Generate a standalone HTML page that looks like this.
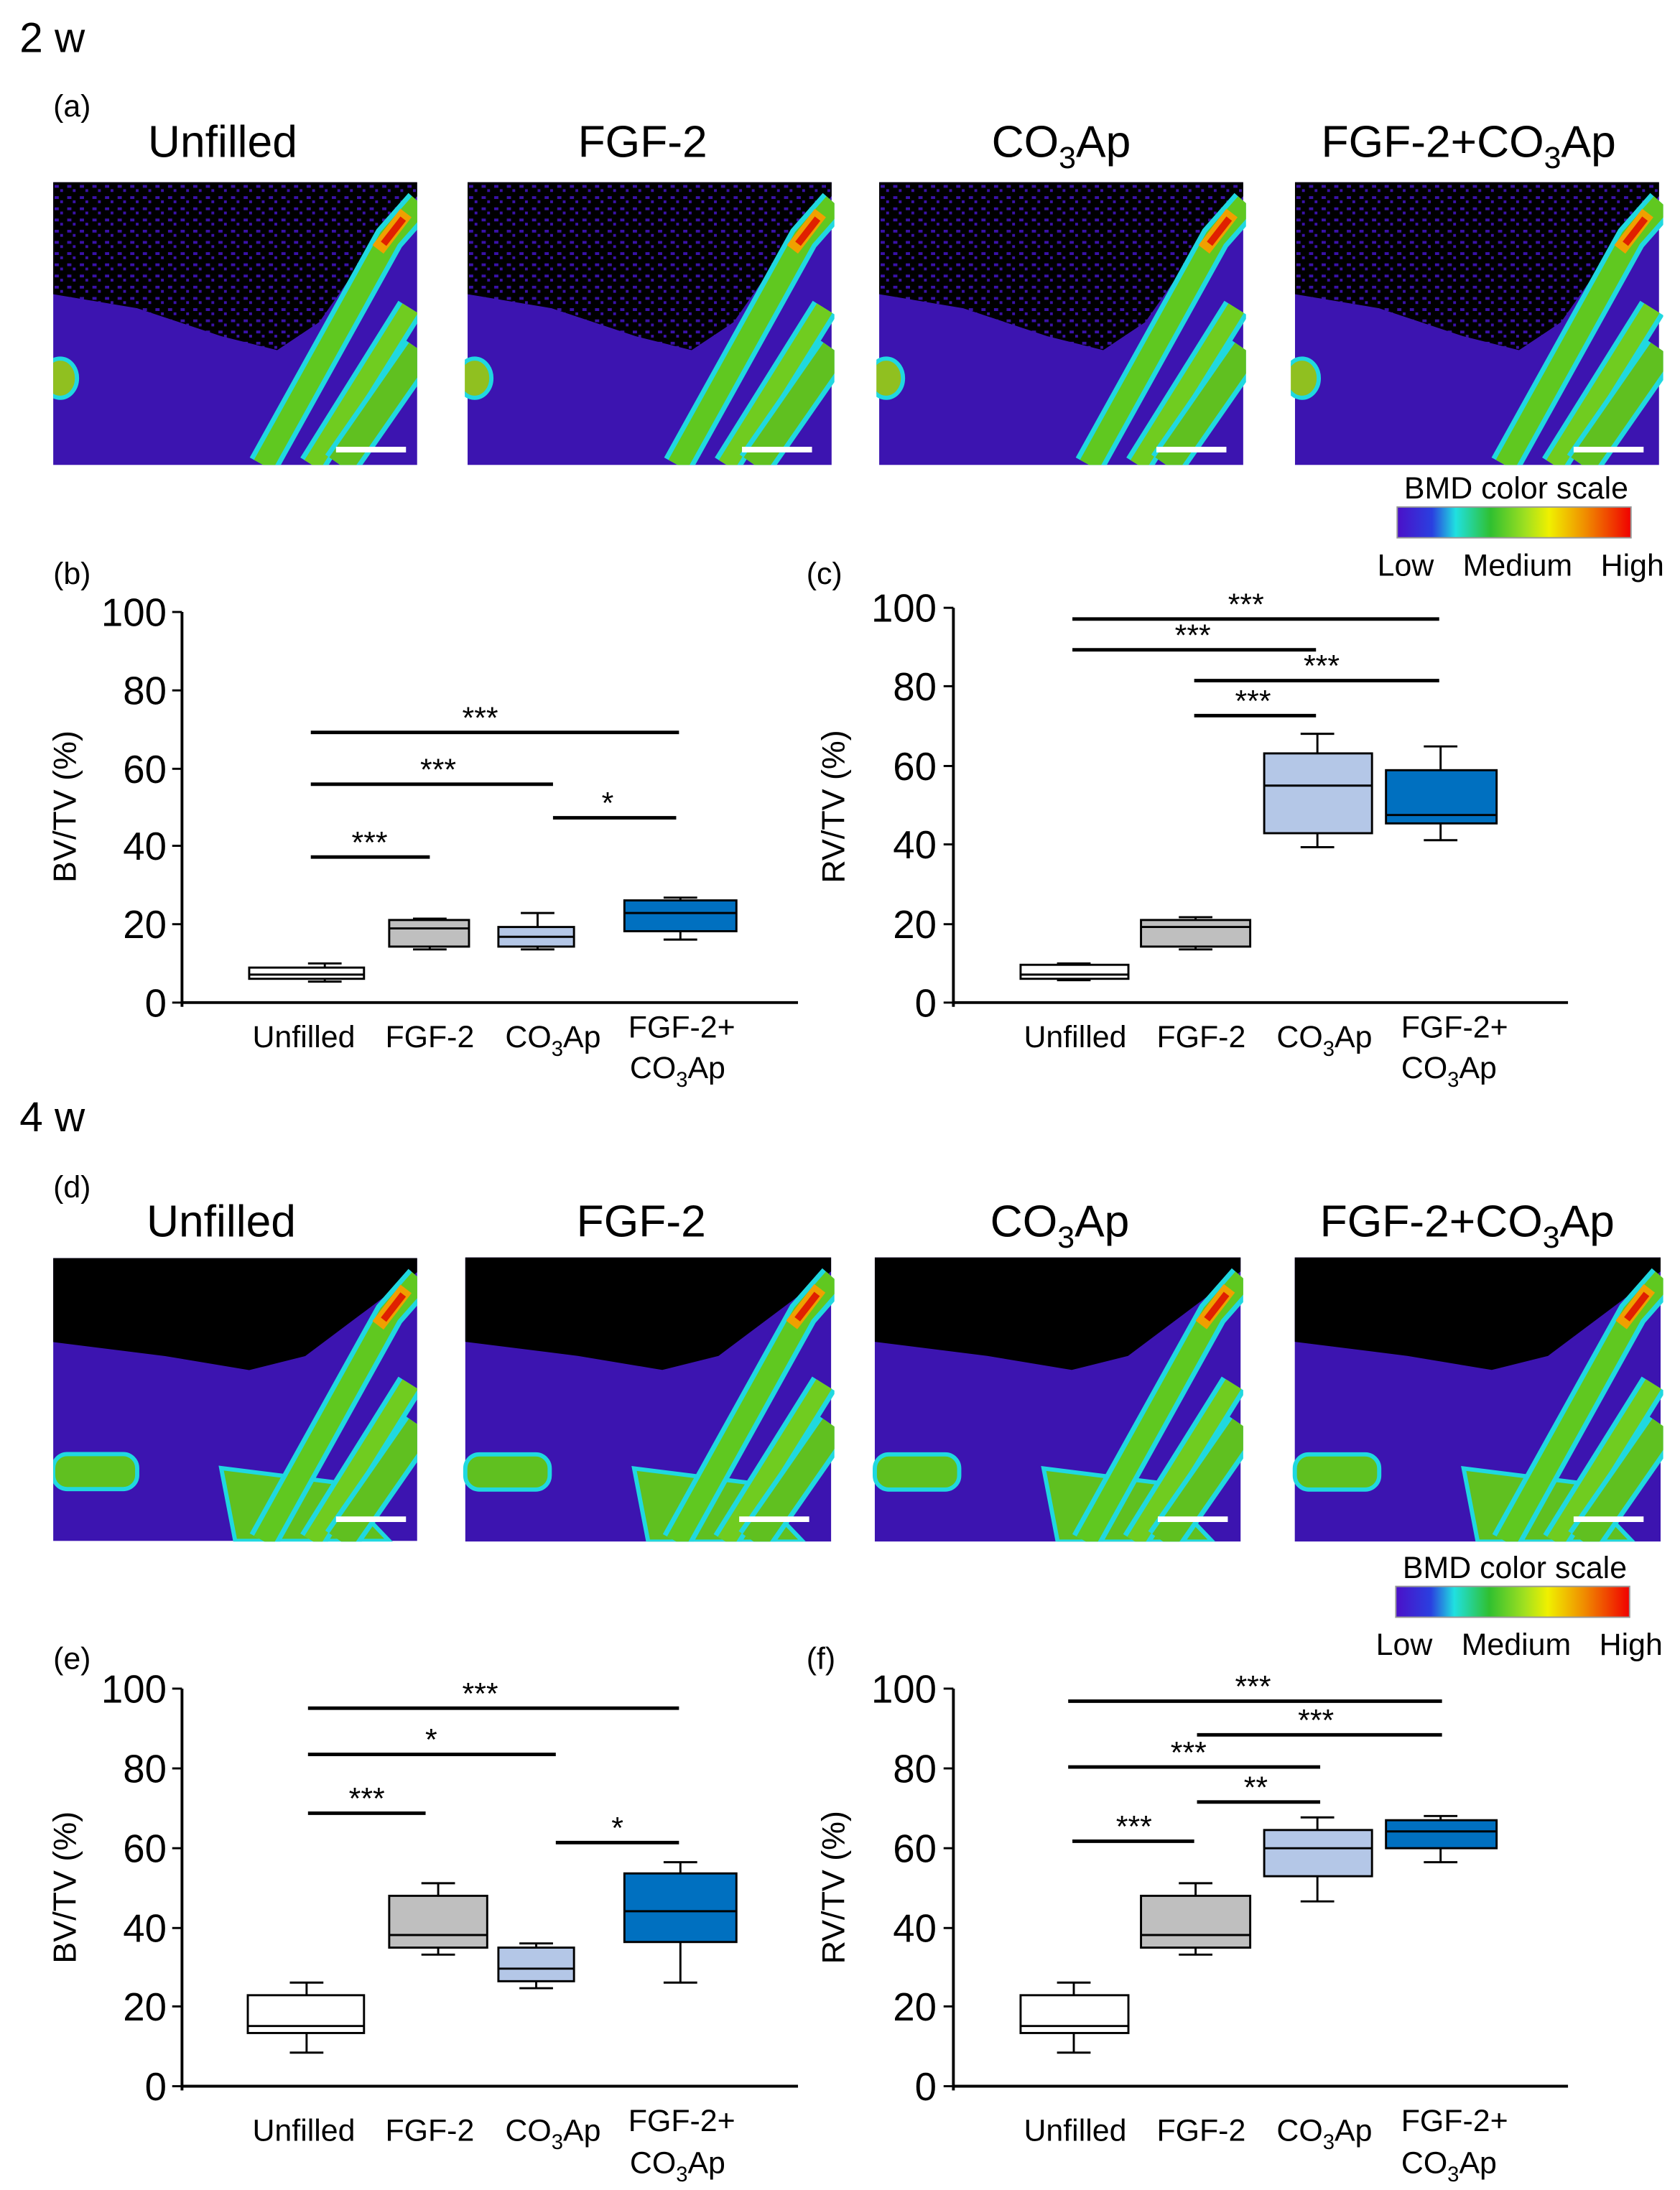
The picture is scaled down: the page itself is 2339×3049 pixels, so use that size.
<!DOCTYPE html>
<html><head><meta charset="utf-8"><style>
html,body{margin:0;padding:0;background:#fff;}
svg{display:block;font-family:"Liberation Sans",Arial,sans-serif;}
</style></head><body>
<svg width="2339" height="3049" viewBox="0 0 1200 1564" xmlns="http://www.w3.org/2000/svg">
<defs>
<linearGradient id="bmd" x1="0" x2="1">
<stop offset="0" stop-color="#4b10c8"/><stop offset="0.15" stop-color="#2a40e0"/><stop offset="0.25" stop-color="#20e0e0"/><stop offset="0.4" stop-color="#30c030"/><stop offset="0.55" stop-color="#a0e020"/><stop offset="0.65" stop-color="#f0f000"/><stop offset="0.8" stop-color="#f09000"/><stop offset="1" stop-color="#f00000"/>
</linearGradient>
<pattern id="dots" width="9" height="8" patternUnits="userSpaceOnUse">
<rect width="9" height="8" fill="#000"/><rect x="1" y="2" width="3" height="2" fill="#3a12a8"/><rect x="5" y="5" width="2" height="2" fill="#3a12a8"/>
</pattern>
<g id="bands">
<path d="M150,202 L240,40 L262,15" stroke="#20d8e0" stroke-width="22" fill="none"/>
<path d="M150,202 L240,40 L262,15" stroke="#60c820" stroke-width="15" fill="none"/>
<path d="M185,202 L255,90" stroke="#20d8e0" stroke-width="20" fill="none"/>
<path d="M185,202 L255,90" stroke="#70cc20" stroke-width="13" fill="none"/>
<path d="M205,202 L262,120" stroke="#20d8e0" stroke-width="26" fill="none"/>
<path d="M205,202 L262,120" stroke="#60c020" stroke-width="19" fill="none"/>
<path d="M232,48 L252,22" stroke="#f0a000" stroke-width="10"/>
<path d="M236,44 L250,26" stroke="#e02000" stroke-width="5"/>
</g>
<symbol id="ct2" viewBox="0 0 260 202">
<rect width="260" height="202" fill="#3c14b0"/>
<polygon points="0,0 260,0 260,10 225,50 190,100 160,120 120,110 60,90 0,80" fill="url(#dots)"/>
<ellipse cx="5" cy="140" rx="12" ry="14" fill="#90c020" stroke="#20d8e0" stroke-width="3"/>
<use href="#bands"/>
</symbol>
<symbol id="ct4" viewBox="0 0 260 202">
<rect width="260" height="202" fill="#3c14b0"/>
<polygon points="0,0 260,0 260,10 220,40 180,70 140,80 80,70 0,60" fill="#000"/>
<rect x="0" y="140" width="60" height="25" rx="10" fill="#60c020" stroke="#20d8e0" stroke-width="3"/>
<path d="M130,202 L120,150 L200,160 L240,202Z" fill="#60c020" stroke="#20d8e0" stroke-width="3"/>
<use href="#bands"/>
</symbol>
</defs>

<g font-size="30"><text x="14" y="37">2 w</text><text x="14" y="808">4 w</text></g>
<g font-size="22"><text x="38" y="83">(a)</text><text x="38" y="855">(d)</text>
<text x="38" y="417">(b)</text><text x="576" y="417">(c)</text>
<text x="38" y="1192">(e)</text><text x="576" y="1192">(f)</text></g>

<g font-size="32" text-anchor="middle">
<text x="159" y="112">Unfilled</text><text x="459" y="112">FGF-2</text>
<text x="758" y="112">CO<tspan font-size="22" dy="8">3</tspan><tspan dy="-8">Ap</tspan></text>
<text x="1049" y="112">FGF-2+CO<tspan font-size="22" dy="8">3</tspan><tspan dy="-8">Ap</tspan></text>
<text x="158" y="883">Unfilled</text><text x="458" y="883">FGF-2</text>
<text x="757" y="883">CO<tspan font-size="22" dy="8">3</tspan><tspan dy="-8">Ap</tspan></text>
<text x="1048" y="883">FGF-2+CO<tspan font-size="22" dy="8">3</tspan><tspan dy="-8">Ap</tspan></text>
</g>

<use href="#ct2" x="38" y="130" width="260" height="202" preserveAspectRatio="none"/>
<use href="#ct2" x="332" y="130" width="264" height="202" preserveAspectRatio="none"/>
<use href="#ct2" x="626" y="130" width="264" height="202" preserveAspectRatio="none"/>
<use href="#ct2" x="922" y="130" width="266" height="202" preserveAspectRatio="none"/>
<use href="#ct4" x="38" y="898" width="260" height="203" preserveAspectRatio="none"/>
<use href="#ct4" x="330" y="898" width="266" height="203" preserveAspectRatio="none"/>
<use href="#ct4" x="623" y="898" width="265" height="203" preserveAspectRatio="none"/>
<use href="#ct4" x="923" y="898" width="265" height="203" preserveAspectRatio="none"/>
<g stroke="#fff" stroke-width="4">
<line x1="240" y1="321" x2="290" y2="321"/><line x1="530" y1="321" x2="580" y2="321"/><line x1="826" y1="321" x2="876" y2="321"/><line x1="1124" y1="321" x2="1174" y2="321"/>
<line x1="240" y1="1085" x2="290" y2="1085"/><line x1="528" y1="1085" x2="578" y2="1085"/><line x1="827" y1="1085" x2="877" y2="1085"/><line x1="1124" y1="1085" x2="1174" y2="1085"/>
</g>

<g font-size="22" text-anchor="middle">
<text x="1083" y="356">BMD color scale</text>
<rect x="998" y="362" width="167" height="22" fill="url(#bmd)" stroke="#999"/>
<text x="1004" y="411">Low</text><text x="1084" y="411">Medium</text><text x="1166" y="411">High</text>
<text x="1082" y="1127">BMD color scale</text>
<rect x="997" y="1133" width="167" height="22" fill="url(#bmd)" stroke="#999"/>
<text x="1003" y="1182">Low</text><text x="1083" y="1182">Medium</text><text x="1165" y="1182">High</text>
</g>

<g stroke="#000" stroke-width="2" fill="none">
<line x1="130" y1="437" x2="130" y2="719"/><line x1="130" y1="716" x2="570" y2="716"/>
<line x1="681" y1="434" x2="681" y2="719"/><line x1="681" y1="716" x2="1120" y2="716"/>
<line x1="130" y1="1206" x2="130" y2="1493"/><line x1="130" y1="1490" x2="570" y2="1490"/>
<line x1="681" y1="1206" x2="681" y2="1493"/><line x1="681" y1="1490" x2="1120" y2="1490"/>
</g>
<g font-size="28" text-anchor="end">
<text x="119" y="447">100</text><text x="119" y="503">80</text><text x="119" y="559">60</text><text x="119" y="614">40</text><text x="119" y="670">20</text><text x="119" y="726">0</text>
<text x="669" y="444">100</text><text x="669" y="500">80</text><text x="669" y="557">60</text><text x="669" y="613">40</text><text x="669" y="670">20</text><text x="669" y="726">0</text>
<text x="119" y="1216">100</text><text x="119" y="1273">80</text><text x="119" y="1330">60</text><text x="119" y="1387">40</text><text x="119" y="1443">20</text><text x="119" y="1500">0</text>
<text x="669" y="1216">100</text><text x="669" y="1273">80</text><text x="669" y="1330">60</text><text x="669" y="1387">40</text><text x="669" y="1443">20</text><text x="669" y="1500">0</text>
</g>
<g stroke="#000" stroke-width="1.5">
<line x1="123" y1="437" x2="130" y2="437"/><line x1="123" y1="493" x2="130" y2="493"/><line x1="123" y1="549" x2="130" y2="549"/><line x1="123" y1="604" x2="130" y2="604"/><line x1="123" y1="660" x2="130" y2="660"/><line x1="123" y1="716" x2="130" y2="716"/>
<line x1="674" y1="434" x2="681" y2="434"/><line x1="674" y1="490" x2="681" y2="490"/><line x1="674" y1="547" x2="681" y2="547"/><line x1="674" y1="603" x2="681" y2="603"/><line x1="674" y1="660" x2="681" y2="660"/><line x1="674" y1="716" x2="681" y2="716"/>
<line x1="123" y1="1206" x2="130" y2="1206"/><line x1="123" y1="1263" x2="130" y2="1263"/><line x1="123" y1="1320" x2="130" y2="1320"/><line x1="123" y1="1377" x2="130" y2="1377"/><line x1="123" y1="1433" x2="130" y2="1433"/><line x1="123" y1="1490" x2="130" y2="1490"/>
<line x1="674" y1="1206" x2="681" y2="1206"/><line x1="674" y1="1263" x2="681" y2="1263"/><line x1="674" y1="1320" x2="681" y2="1320"/><line x1="674" y1="1377" x2="681" y2="1377"/><line x1="674" y1="1433" x2="681" y2="1433"/><line x1="674" y1="1490" x2="681" y2="1490"/>
</g>
<g font-size="23" text-anchor="middle">
<text transform="translate(54,576) rotate(-90)">BV/TV (%)</text>
<text transform="translate(603,576) rotate(-90)">RV/TV (%)</text>
<text transform="translate(54,1348) rotate(-90)">BV/TV (%)</text>
<text transform="translate(603,1348) rotate(-90)">RV/TV (%)</text>
</g>
<g font-size="22" text-anchor="middle">
<text x="217" y="748">Unfilled</text><text x="307" y="748">FGF-2</text><text x="395" y="748">CO<tspan font-size="15" dy="6">3</tspan><tspan dy="-6">Ap</tspan></text><text x="487" y="741">FGF-2+</text><text x="484" y="770">CO<tspan font-size="15" dy="6">3</tspan><tspan dy="-6">Ap</tspan></text>
<text x="768" y="748">Unfilled</text><text x="858" y="748">FGF-2</text><text x="946" y="748">CO<tspan font-size="15" dy="6">3</tspan><tspan dy="-6">Ap</tspan></text><text x="1039" y="741">FGF-2+</text><text x="1035" y="770">CO<tspan font-size="15" dy="6">3</tspan><tspan dy="-6">Ap</tspan></text>
<text x="217" y="1529">Unfilled</text><text x="307" y="1529">FGF-2</text><text x="395" y="1529">CO<tspan font-size="15" dy="6">3</tspan><tspan dy="-6">Ap</tspan></text><text x="487" y="1522">FGF-2+</text><text x="484" y="1552">CO<tspan font-size="15" dy="6">3</tspan><tspan dy="-6">Ap</tspan></text>
<text x="768" y="1529">Unfilled</text><text x="858" y="1529">FGF-2</text><text x="946" y="1529">CO<tspan font-size="15" dy="6">3</tspan><tspan dy="-6">Ap</tspan></text><text x="1039" y="1522">FGF-2+</text><text x="1035" y="1552">CO<tspan font-size="15" dy="6">3</tspan><tspan dy="-6">Ap</tspan></text>
</g>

<g stroke="#000" stroke-width="1.5">
<line x1="232" y1="688" x2="232" y2="701"/><line x1="220" y1="688" x2="244" y2="688"/><line x1="220" y1="701" x2="244" y2="701"/>
<rect x="178" y="691" width="82" height="8" fill="#fff"/><line x1="178" y1="696" x2="260" y2="696"/>
<line x1="307" y1="656" x2="307" y2="678"/><line x1="295" y1="656" x2="319" y2="656"/><line x1="295" y1="678" x2="319" y2="678"/>
<rect x="278" y="657" width="57" height="19" fill="#bfbfbf"/><line x1="278" y1="663" x2="335" y2="663"/>
<line x1="384" y1="652" x2="384" y2="678"/><line x1="372" y1="652" x2="396" y2="652"/><line x1="372" y1="678" x2="396" y2="678"/>
<rect x="356" y="662" width="54" height="14" fill="#b4c7e7"/><line x1="356" y1="669" x2="410" y2="669"/>
<line x1="486" y1="641" x2="486" y2="671"/><line x1="474" y1="641" x2="498" y2="641"/><line x1="474" y1="671" x2="498" y2="671"/>
<rect x="446" y="643" width="80" height="22" fill="#0070c0"/><line x1="446" y1="652" x2="526" y2="652"/>
<line x1="767" y1="688" x2="767" y2="700"/><line x1="755" y1="688" x2="779" y2="688"/><line x1="755" y1="700" x2="779" y2="700"/>
<rect x="729" y="689" width="77" height="10" fill="#fff"/><line x1="729" y1="696" x2="806" y2="696"/>
<line x1="854" y1="655" x2="854" y2="678"/><line x1="842" y1="655" x2="866" y2="655"/><line x1="842" y1="678" x2="866" y2="678"/>
<rect x="815" y="657" width="78" height="19" fill="#bfbfbf"/><line x1="815" y1="662" x2="893" y2="662"/>
<line x1="941" y1="524" x2="941" y2="605"/><line x1="929" y1="524" x2="953" y2="524"/><line x1="929" y1="605" x2="953" y2="605"/>
<rect x="903" y="538" width="77" height="57" fill="#b4c7e7"/><line x1="903" y1="561" x2="980" y2="561"/>
<line x1="1029" y1="533" x2="1029" y2="600"/><line x1="1017" y1="533" x2="1041" y2="533"/><line x1="1017" y1="600" x2="1041" y2="600"/>
<rect x="990" y="550" width="79" height="38" fill="#0070c0"/><line x1="990" y1="582" x2="1069" y2="582"/>
</g>
<g stroke="#000" stroke-width="1.5">
<line x1="219" y1="1416" x2="219" y2="1466"/><line x1="207" y1="1416" x2="231" y2="1416"/><line x1="207" y1="1466" x2="231" y2="1466"/>
<rect x="177" y="1425" width="83" height="27" fill="#fff"/><line x1="177" y1="1447" x2="260" y2="1447"/>
<line x1="313" y1="1345" x2="313" y2="1396"/><line x1="301" y1="1345" x2="325" y2="1345"/><line x1="301" y1="1396" x2="325" y2="1396"/>
<rect x="278" y="1354" width="70" height="37" fill="#bfbfbf"/><line x1="278" y1="1382" x2="348" y2="1382"/>
<line x1="383" y1="1388" x2="383" y2="1420"/><line x1="371" y1="1388" x2="395" y2="1388"/><line x1="371" y1="1420" x2="395" y2="1420"/>
<rect x="356" y="1391" width="54" height="24" fill="#b4c7e7"/><line x1="356" y1="1406" x2="410" y2="1406"/>
<line x1="486" y1="1330" x2="486" y2="1416"/><line x1="474" y1="1330" x2="498" y2="1330"/><line x1="474" y1="1416" x2="498" y2="1416"/>
<rect x="446" y="1338" width="80" height="49" fill="#0070c0"/><line x1="446" y1="1365" x2="526" y2="1365"/>
<line x1="767" y1="1416" x2="767" y2="1466"/><line x1="755" y1="1416" x2="779" y2="1416"/><line x1="755" y1="1466" x2="779" y2="1466"/>
<rect x="729" y="1425" width="77" height="27" fill="#fff"/><line x1="729" y1="1447" x2="806" y2="1447"/>
<line x1="854" y1="1345" x2="854" y2="1396"/><line x1="842" y1="1345" x2="866" y2="1345"/><line x1="842" y1="1396" x2="866" y2="1396"/>
<rect x="815" y="1354" width="78" height="37" fill="#bfbfbf"/><line x1="815" y1="1382" x2="893" y2="1382"/>
<line x1="941" y1="1298" x2="941" y2="1358"/><line x1="929" y1="1298" x2="953" y2="1298"/><line x1="929" y1="1358" x2="953" y2="1358"/>
<rect x="903" y="1307" width="77" height="33" fill="#b4c7e7"/><line x1="903" y1="1320" x2="980" y2="1320"/>
<line x1="1029" y1="1297" x2="1029" y2="1330"/><line x1="1017" y1="1297" x2="1041" y2="1297"/><line x1="1017" y1="1330" x2="1041" y2="1330"/>
<rect x="990" y="1300" width="79" height="20" fill="#0070c0"/><line x1="990" y1="1308" x2="1069" y2="1308"/>
</g>

<g stroke="#000" stroke-width="2.5">
<line x1="222" y1="523" x2="485" y2="523"/><line x1="222" y1="560" x2="395" y2="560"/><line x1="222" y1="612" x2="307" y2="612"/><line x1="395" y1="584" x2="483" y2="584"/>
<line x1="766" y1="442" x2="1028" y2="442"/><line x1="766" y1="464" x2="940" y2="464"/><line x1="853" y1="486" x2="1028" y2="486"/><line x1="853" y1="511" x2="940" y2="511"/>
<line x1="220" y1="1220" x2="485" y2="1220"/><line x1="220" y1="1253" x2="397" y2="1253"/><line x1="220" y1="1295" x2="304" y2="1295"/><line x1="397" y1="1316" x2="485" y2="1316"/>
<line x1="763" y1="1215" x2="1030" y2="1215"/><line x1="855" y1="1239" x2="1030" y2="1239"/><line x1="763" y1="1262" x2="943" y2="1262"/><line x1="855" y1="1287" x2="943" y2="1287"/><line x1="766" y1="1315" x2="853" y2="1315"/>
</g>
<g font-size="22" text-anchor="middle">
<text x="343" y="520">***</text><text x="313" y="557">***</text><text x="264" y="609">***</text><text x="434" y="581">*</text>
<text x="890" y="439">***</text><text x="852" y="461">***</text><text x="944" y="483">***</text><text x="895" y="508">***</text>
<text x="343" y="1217">***</text><text x="308" y="1250">*</text><text x="262" y="1292">***</text><text x="441" y="1313">*</text>
<text x="895" y="1212">***</text><text x="940" y="1236">***</text><text x="849" y="1259">***</text><text x="897" y="1284">**</text><text x="810" y="1312">***</text>
</g>
</svg>
</body></html>
